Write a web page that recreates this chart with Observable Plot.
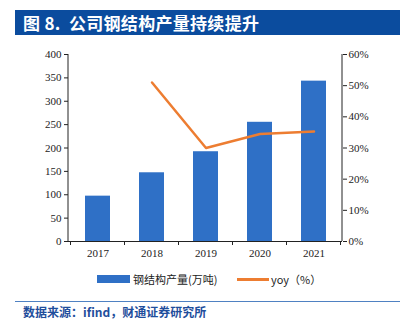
<!DOCTYPE html>
<html><head><meta charset="utf-8">
<script src="https://cdn.jsdelivr.net/npm/d3@7"></script>
<script src="https://cdn.jsdelivr.net/npm/@observablehq/plot@0.6"></script>
<style>
html,body{margin:0;padding:0;background:#fff;}
#wrap{position:relative;width:403px;height:328px;overflow:hidden;font-family:"Noto Sans CJK SC",sans-serif;}
#title{position:absolute;left:15px;top:10px;width:385px;height:25px;background:#0B4C9E;color:#fff;font-weight:bold;font-size:17px;line-height:25px;padding-left:8px;box-sizing:border-box;white-space:nowrap;letter-spacing:0.3px;}
#footline{position:absolute;left:15px;top:301px;width:385px;height:1px;background:#4F81C2;}
#foot{position:absolute;left:23px;top:304px;font-size:12px;font-weight:bold;color:#1F4E9C;line-height:16px;white-space:nowrap;}
#legend{position:absolute;left:0;top:271px;width:403px;height:16px;font-size:11px;color:#222;}
.sw{position:absolute;}
.lt{position:absolute;top:0;line-height:16px;white-space:nowrap;}
#chart{position:absolute;left:0;top:0;}
</style></head>
<body>
<div id="wrap">
  <div id="chart"></div>
  <div id="title">图 8.&nbsp; 公司钢结构产量持续提升</div>
  <div id="legend">
    <div class="sw" style="left:97px;top:4px;width:33px;height:8px;background:#2F70C6;"></div>
    <div class="lt" style="left:133px;">钢结构产量(万吨)</div>
    <div class="sw" style="left:237px;top:7px;width:32px;height:2.5px;background:#ED7D31;"></div>
    <div class="lt" style="left:271px;">yoy（%）</div>
  </div>
  <div id="footline"></div>
  <div id="foot">数据来源：ifind，财通证券研究所</div>
</div>
<script>
const years = ["2017", "2018", "2019", "2020", "2021"];
const output = [97, 147, 192, 255, 343];
const yoyYears = ["2018", "2019", "2020", "2021"];
const yoy = [51, 30, 34.5, 35.3];
const leftTicks = [0, 50, 100, 150, 200, 250, 300, 350, 400];
const rightTicks = [0, 10, 20, 30, 40, 50, 60];
const leftMax = 400, rightMax = 60;

const barData = years.map((y, i) => ({year: y, v: output[i]}));
const lineData = yoyYears.map((y, i) => ({year: y, p: yoy[i]}));
const toLeft = p => p * leftMax / rightMax;

const chart = Plot.plot({
  width: 403, height: 328,
  marginLeft: 68, marginRight: 61, marginTop: 54, marginBottom: 87,
  style: {fontFamily: "'Liberation Serif', serif", fontSize: "11px", color: "#222", background: "transparent"},
  x: {domain: years, paddingInner: 0.545, paddingOuter: 0.2725, label: null},
  y: {domain: [0, leftMax], label: null},
  marks: [
    Plot.barY(barData, {x: "year", y: "v", fill: "#2F70C6"}),
    Plot.line(lineData, {x: "year", y: d => toLeft(d.p), stroke: "#ED7D31", strokeWidth: 2.5}),
    Plot.ruleY([0], {stroke: "#222"}),
    Plot.axisY(leftTicks, {anchor: "left", tickSize: 4, tickPadding: 3, label: null, stroke: "#222"}),
    Plot.axisY(rightTicks.map(toLeft), {anchor: "right", tickSize: 4, tickPadding: 2, label: null, stroke: "#222",
      tickFormat: d => Math.round(d * rightMax / leftMax) + "%"}),
    Plot.axisX({anchor: "bottom", tickSize: 0, tickPadding: 8, label: null})
  ]
});
document.getElementById("chart").appendChild(chart);

// axis lines and category-boundary ticks from the library's scales
const xs = chart.scale("x"), ys = chart.scale("y");
const svg = d3.select(chart);
const y0 = ys.apply(0), yTop = ys.apply(leftMax);
const xL = xs.range[0], xR = xs.range[1];
const g = svg.append("g").attr("stroke", "#222").attr("stroke-width", 1);
g.append("line").attr("x1", xL).attr("x2", xL).attr("y1", yTop).attr("y2", y0);
g.append("line").attr("x1", xR).attr("x2", xR).attr("y1", yTop).attr("y2", y0);
const gap = (xs.step - xs.bandwidth) / 2;
const bounds = years.map(y => xs.apply(y) - gap).concat([xs.apply(years[years.length - 1]) + xs.bandwidth + gap]);
bounds.forEach(b => g.append("line").attr("x1", b).attr("x2", b).attr("y1", y0).attr("y2", y0 + 4));
</script>
</body></html>
